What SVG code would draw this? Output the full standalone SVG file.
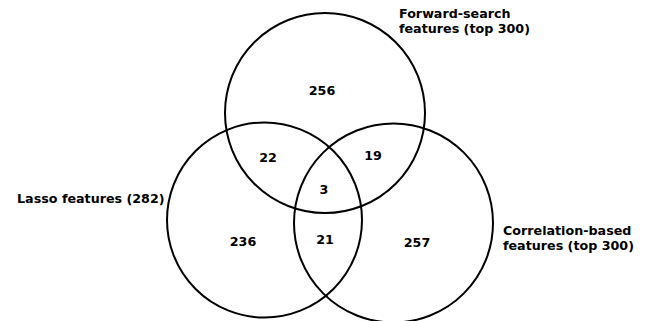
<svg xmlns="http://www.w3.org/2000/svg" width="645" height="321" viewBox="0 0 645 321">
<style>
.c{fill:none;stroke:#000;stroke-width:2}
.n{font-family:"DejaVu Sans",Verdana,sans-serif;font-weight:bold;font-size:12.7px;fill:#000;text-anchor:middle}
.l{font-family:"DejaVu Sans",Verdana,sans-serif;font-weight:bold;font-size:12.7px;fill:#000}
</style>
<rect width="645" height="321" fill="#fff"/>
<g id="connectors"></g>
<g id="forward"><circle class="c" cx="325" cy="113" r="100"/>
<text class="l" x="399" y="18">Forward-search</text><text class="l" x="399" y="33">features (top 300)</text></g>
<g id="lasso"><circle class="c" cx="264.5" cy="220" r="97.5"/>
<text class="l" x="17" y="203">Lasso features (282)</text></g>
<g id="correlation"><circle class="c" cx="393.5" cy="223" r="99.5"/>
<text class="l" x="503" y="235">Correlation-based</text><text class="l" x="503" y="250">features (top 300)</text></g>
<g id="counts">
<text class="n" x="322" y="95">256</text>
<text class="n" x="268" y="162">22</text>
<text class="n" x="373" y="160">19</text>
<text class="n" x="324" y="194">3</text>
<text class="n" x="243" y="246">236</text>
<text class="n" x="325" y="244">21</text>
<text class="n" x="417" y="247">257</text>
</g>
</svg>
